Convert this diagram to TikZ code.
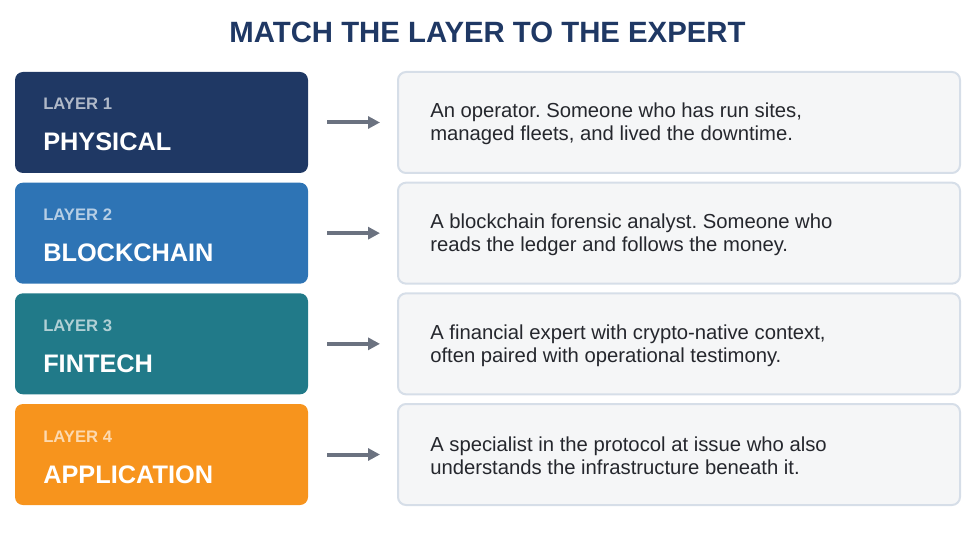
\documentclass[tikz,border=0pt]{standalone}
\usepackage{fontspec}
\setmainfont{Liberation Sans}
\usetikzlibrary{arrows.meta, positioning, calc}
\definecolor{navy}{HTML}{1F3864}
\definecolor{chainblue}{HTML}{2E74B5}
\definecolor{teal}{HTML}{217A89}
\definecolor{amber}{HTML}{F7941D}
\definecolor{boxfill}{HTML}{F5F6F7}
\definecolor{boxline}{HTML}{D6DEE8}
\definecolor{ink}{HTML}{25272D}
\definecolor{arrowgray}{HTML}{6B7280}
\frenchspacing

\begin{document}
\begin{tikzpicture}[
    x=0.75pt, y=-0.75pt,
    every node/.style={inner sep=0pt},
    heading/.style={font=\fontsize{22}{26}\selectfont\bfseries, text=navy},
    layerbox/.style={rectangle, rounded corners=6pt, minimum width=219.75pt, minimum height=75.75pt},
    layertag/.style={font=\fontsize{12.5}{15}\selectfont\bfseries, text=white, text opacity=0.65},
    layername/.style={font=\fontsize{19}{23}\selectfont\bfseries, text=white},
    expertbox/.style={rectangle, draw=boxline, line width=1.5pt, rounded corners=6pt, fill=boxfill, minimum width=421.5pt, minimum height=75.75pt},
    desc/.style={font=\fontsize{15.2}{17.25}\selectfont, text=ink, align=left},
    arr/.style={-{Triangle[length=9pt, width=9pt]}, line width=3pt, draw=arrowgray, shorten <=14.25pt, shorten >=12.75pt}
]
    \useasboundingbox (0,0) rectangle (975,534);

    \node (title) [heading, anchor=base] at (487.5,43) {MATCH THE LAYER TO THE EXPERT};

    % one row per layer
    \foreach \i/\col/\nm/\txt in {
        1/navy/PHYSICAL/{An operator. Someone who has run sites,\\managed fleets, and lived the downtime.},
        2/chainblue/BLOCKCHAIN/{A blockchain forensic analyst. Someone who\\reads the ledger and follows the money.},
        3/teal/FINTECH/{A financial expert with crypto-native context,\\often paired with operational testimony.},
        4/amber/APPLICATION/{A specialist in the protocol at issue who also\\understands the infrastructure beneath it.}} {
        \pgfmathsetmacro\ytop{72+110.67*(\i-1)}
        \node (layer\i) [layerbox, fill=\col] at (161.5,\ytop+50.5) {};
        \node (tag\i) [layertag, anchor=base west] at (43,\ytop+38) {LAYER \i};
        \node (name\i) [layername, anchor=base west] at (43,\ytop+79) {\nm};
        \node (expert\i) [expertbox] at (679,\ytop+50.5) {};
        \node (desc\i) [desc, anchor=west] at (430,\ytop+52) {\txt};
        \draw[arr] (layer\i) -- (expert\i);
    }
\end{tikzpicture}
\end{document}
